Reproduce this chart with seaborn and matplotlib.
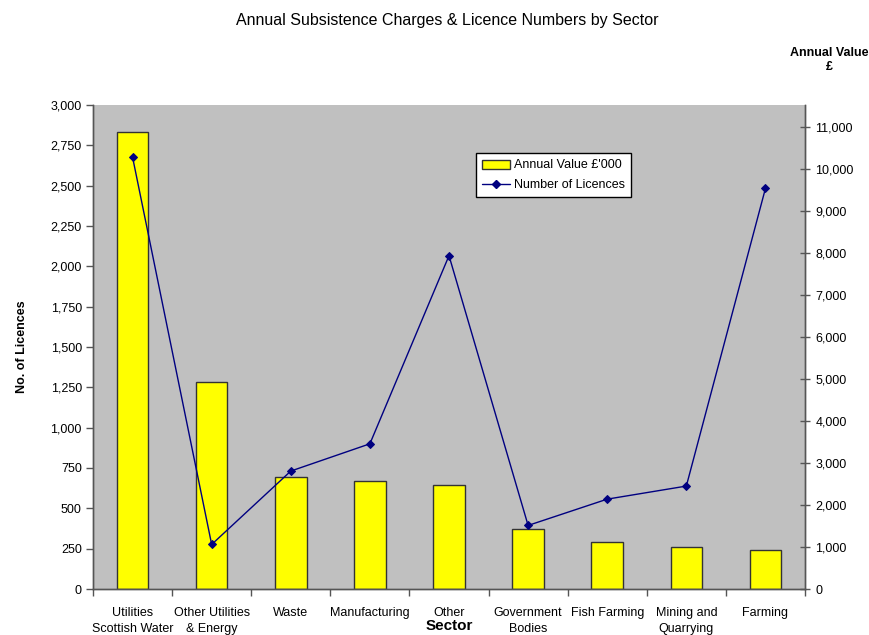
import numpy as np
import pandas as pd
import matplotlib
matplotlib.use("Agg")
import matplotlib.pyplot as plt
import seaborn as sns
from matplotlib.lines import Line2D
from matplotlib.patches import Patch
from matplotlib.ticker import FuncFormatter, MultipleLocator

sectors = ["Utilities\nScottish Water", "Other Utilities\n& Energy", "Waste",
           "Manufacturing", "Other", "Government\nBodies", "Fish Farming",
           "Mining and\nQuarrying", "Farming"]
annual_value = [10880, 4920, 2660, 2580, 2475, 1420, 1130, 1000, 930]
licences = [2677, 276, 731, 900, 2066, 394, 557, 638, 2483]

df = pd.DataFrame({"Sector": sectors, "Annual Value": annual_value, "Licences": licences})

sns.set_theme(style="white")
plt.rcParams["font.family"] = ["Liberation Sans", "DejaVu Sans"]
plt.rcParams["text.color"] = "black"
plt.rcParams["axes.labelcolor"] = "black"
plt.rcParams["xtick.color"] = "black"
plt.rcParams["ytick.color"] = "black"

fig = plt.figure(figsize=(8.7, 6.35), dpi=100)
ax = fig.add_axes([93/870, 1-589/635, (805-93)/870, (589-105)/635])
ax.set_facecolor("#C0C0C0")

sns.barplot(data=df, x="Sector", y="Annual Value", order=sectors, color="#FFFF00",
            width=0.4, edgecolor="#333333", linewidth=1, saturation=1, ax=ax)

ax2 = ax.twinx()
sns.lineplot(data=df, x="Sector", y="Licences", color="#000080", marker="D",
             markersize=4, markeredgecolor="#000080", linewidth=1, ax=ax2)

fmt = FuncFormatter(lambda v, p: f"{int(v):,}")

# bars -> right axis
ax.set_ylim(0, 11530)
ax.yaxis.set_major_locator(MultipleLocator(1000))
ax.yaxis.set_major_formatter(fmt)
ax.yaxis.tick_right()
ax.yaxis.set_label_position("right")
ax.set_ylabel("")
ax.tick_params(axis="y", which="major", direction="inout", length=7, width=1,
               color="#555555", labelcolor="black", labelsize=9, pad=4,
               right=True, left=False)

# line -> left axis
ax2.set_ylim(0, 3000)
ax2.yaxis.set_major_locator(MultipleLocator(250))
ax2.yaxis.set_major_formatter(fmt)
ax2.yaxis.tick_left()
ax2.yaxis.set_label_position("left")
ax2.set_ylabel("No. of Licences", fontsize=9, fontweight="bold", labelpad=16,
               color="black")
ax2.tick_params(axis="y", which="major", direction="out", length=5, width=1,
                color="#555555", labelcolor="black", labelsize=9, pad=3,
                left=True, right=False)

ax.set_xlim(-0.5, 8.5)
ax.set_xticks(range(len(sectors)))
ax.set_xticklabels(sectors, fontsize=9, linespacing=1.45, color="black")
ax.tick_params(axis="x", which="major", length=0, pad=13)
ax.set_xticks(np.arange(-0.5, 9, 1), minor=True)
ax.tick_params(axis="x", which="minor", direction="out", length=5, width=1,
               color="#555555", bottom=True)
ax.set_xlabel("Sector", fontsize=11, fontweight="bold", color="black", va="center")
ax.xaxis.set_label_coords(0.5, (589-626)/484)
ax2.set_xlabel("")

for a in (ax, ax2):
    a.spines["top"].set_visible(False)
    for s in ("left", "right", "bottom"):
        a.spines[s].set_color("#555555")
        a.spines[s].set_linewidth(1)

fig.text(447/870, 1-21/635, "Annual Subsistence Charges & Licence Numbers by Sector",
         ha="center", va="center", fontsize=11.5, color="black")
fig.text(829/870, 1-60/635, "Annual Value\n£", ha="center", va="center",
         fontsize=9, fontweight="bold", linespacing=1.3, color="black")

handles = [Patch(facecolor="#FFFF00", edgecolor="#333333", label="Annual Value £'000"),
           Line2D([], [], color="#000080", marker="D", markersize=4, lw=1,
                  label="Number of Licences")]
leg = ax2.legend(handles=handles, loc="upper left",
                 bbox_to_anchor=((470-93)/712, (589-147)/484),
                 frameon=True, fancybox=False, fontsize=9, borderpad=0.5,
                 handlelength=2.2, handletextpad=0.3, labelspacing=0.6)
leg.get_frame().set_edgecolor("black")
leg.get_frame().set_linewidth(1)
leg.get_frame().set_facecolor("white")
leg.get_frame().set_alpha(1)
for t in leg.get_texts():
    t.set_color("black")

fig.savefig("out.png", dpi=100, facecolor="white")
